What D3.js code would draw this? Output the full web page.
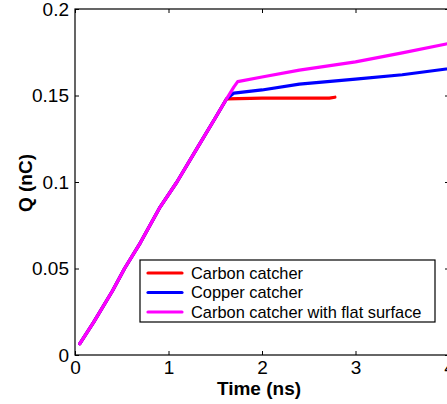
<!DOCTYPE html>
<html>
<head>
<meta charset="utf-8">
<script src="https://cdn.jsdelivr.net/npm/d3@7"></script>
<style>
body { margin:0; background:#fff; }
svg { display:block; font-family:"Liberation Sans", Arial, sans-serif; }
</style>
</head>
<body>
<svg></svg>
<script>
// shared rising part (all three curves sit on top of each other here)
var riseT = [0.05, 0.2, 0.4, 0.53, 0.7, 0.91, 1.09, 1.3, 1.5, 1.62];
var riseQ = [0.0065, 0.019, 0.037, 0.05, 0.065, 0.0855, 0.1, 0.119, 0.137, 0.148];

var carbonT = [2.0, 2.5, 2.72, 2.78];
var carbonQ = [0.1485, 0.1485, 0.1485, 0.149];

var copperT = [1.7, 2.0, 2.4, 3.0, 3.5, 3.97];
var copperQ = [0.1514, 0.1532, 0.1566, 0.1595, 0.162, 0.1653];

var flatT = [1.7, 1.74, 2.0, 2.4, 3.0, 3.5, 3.97];
var flatQ = [0.155, 0.158, 0.1607, 0.1647, 0.1694, 0.1746, 0.1798];

var seriesNames = ["Carbon catcher", "Copper catcher", "Carbon catcher with flat surface"];
var seriesColors = ["#ff0000", "#0000ff", "#ff00ff"];

var xTicks = [0, 1, 2, 3, 4];
var yTicks = [0, 0.05, 0.1, 0.15, 0.2];

var screen = {width:447, height:404};
var svg = d3.select("svg")
            .attr("width", screen.width)
            .attr("height", screen.height);

var margins = {top:9, left:75};
var width = 374;
var height = 346;

var xScale = d3.scaleLinear().domain([0,4]).range([0,width]);
var yScale = d3.scaleLinear().domain([0,0.2]).range([height,0]);

var plot = svg.append("g")
              .attr("transform","translate("+margins.left+","+margins.top+")");

function pts(ts, qs) { return ts.map(function(t,i){ return [t, qs[i]]; }); }
var data = [
  pts(riseT.concat(carbonT), riseQ.concat(carbonQ)),
  pts(riseT.concat(copperT), riseQ.concat(copperQ)),
  pts(riseT.concat(flatT), riseQ.concat(flatQ))
];

// axes, matlab style: ticks inward, box all round
var tickFont = function(g) {
  g.select(".domain").remove();
  g.selectAll("text").attr("font-size", 19).attr("fill", "#000")
   .attr("font-family", "Liberation Sans, Arial, sans-serif");
  g.selectAll("line").attr("stroke", "#000");
};

plot.append("g")
    .attr("transform","translate(0,"+height+")")
    .call(d3.axisBottom(xScale).tickValues(xTicks).tickSize(-4).tickPadding(6).tickFormat(d3.format("d")))
    .call(tickFont);

plot.append("g")
    .call(d3.axisTop(xScale).tickValues(xTicks).tickSize(-4).tickFormat(""))
    .call(tickFont);

plot.append("g")
    .call(d3.axisLeft(yScale).tickValues(yTicks).tickSize(-4).tickPadding(6).tickFormat(function(d){ return d3.format("")(+d.toFixed(2)); }))
    .call(tickFont);

plot.append("g")
    .attr("transform","translate("+width+",0)")
    .call(d3.axisRight(yScale).tickValues(yTicks).tickSize(-4).tickFormat(""))
    .call(tickFont);

plot.append("rect")
    .attr("x",0).attr("y",0)
    .attr("width",width).attr("height",height)
    .attr("fill","none").attr("stroke","#000").attr("stroke-width",1.2);

var line = d3.line()
             .x(function(d){ return xScale(d[0]); })
             .y(function(d){ return yScale(d[1]); });

plot.selectAll(".curve")
    .data(data)
    .enter()
    .append("path")
    .classed("curve", true)
    .attr("d", line)
    .attr("fill","none")
    .attr("stroke", function(d,i){ return seriesColors[i]; })
    .attr("stroke-width", 3.2)
    .attr("stroke-linejoin","round")
    .attr("stroke-linecap","round");

// labels
svg.append("text")
   .attr("x", 259).attr("y", 395)
   .attr("text-anchor","middle")
   .attr("font-size", 19).attr("font-weight","bold")
   .text("Time (ns)");

svg.append("text")
   .attr("transform","translate(32,183) rotate(-90)")
   .attr("text-anchor","middle")
   .attr("font-size", 19).attr("font-weight","bold")
   .text("Q (nC)");

// legend
var legend = svg.append("g")
                .attr("transform","translate(140,260)");

legend.append("rect")
      .attr("x",0).attr("y",0)
      .attr("width",295).attr("height",62)
      .attr("fill","#fff").attr("stroke","#000").attr("stroke-width",1.2);

var legendLines = legend.selectAll(".legendLine")
                        .data(seriesNames)
                        .enter()
                        .append("g")
                        .classed("legendLine", true)
                        .attr("transform", function(d,i){ return "translate(0,"+(13+i*19.5)+")"; });

legendLines.append("line")
           .attr("x1",8).attr("x2",42)
           .attr("y1",0).attr("y2",0)
           .attr("stroke", function(d,i){ return seriesColors[i]; })
           .attr("stroke-width",3.2)
           .attr("stroke-linecap","round");

legendLines.append("text")
           .attr("x",51).attr("y",5.5)
           .attr("font-size",16.4)
           .text(function(d){ return d; });
</script>
</body>
</html>
